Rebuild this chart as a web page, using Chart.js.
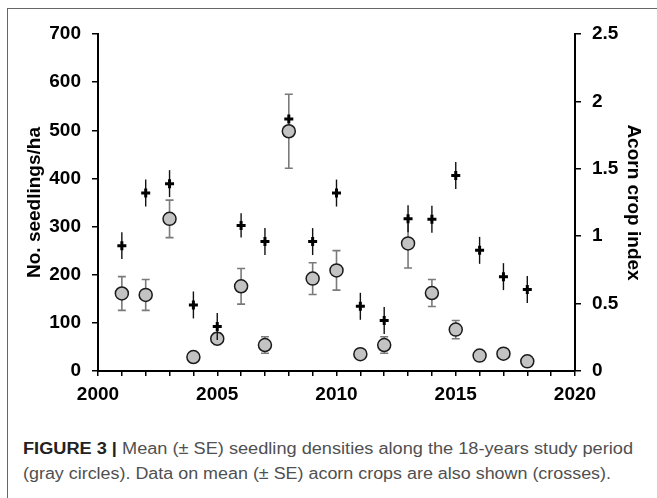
<!DOCTYPE html>
<html>
<head>
<meta charset="utf-8">
<script src="https://cdn.jsdelivr.net/npm/chart.js@4.4.0/dist/chart.umd.min.js"></script>
<style>
body{margin:0;background:#fff;overflow:hidden;width:657px;height:498px;position:relative}
#frame{position:absolute;left:7px;top:8px;width:700px;height:600px;border-left:1.5px solid #666;border-top:1.5px solid #666}
#chart{position:absolute;left:0;top:0}
.cap{position:absolute;left:23px;font-family:"Liberation Sans",Arial,sans-serif;font-size:16px;color:#505050;white-space:nowrap;line-height:26px;transform-origin:0 50%}
.cap b{color:#222}
</style>
</head>
<body>
<div id="frame"></div>
<canvas id="chart" width="657" height="420"></canvas>
<div class="cap" id="cap1" style="top:436px"><b>FIGURE 3 |</b> Mean (± SE) seedling densities along the 18-years study period</div>
<div class="cap" id="cap2" style="top:461px">(gray circles). Data on mean (± SE) acorn crops are also shown (crosses).</div>
<script>
const years=[2001,2002,2003,2004,2005,2006,2007,2008,2009,2010,2011,2012,2013,2014,2015,2016,2017,2018]
const seedlings=[161,158,316,29,67,176,54,498,192,209,35,54,265,162,86,32,36,20]
const seedlingsSE=[35,32,39,4,12,37,17,77,33,41,4,17,51,28,19,4,5,4]
const acorn=[0.93,1.32,1.39,0.49,0.33,1.08,0.96,1.87,0.96,1.32,0.48,0.375,1.13,1.125,1.45,0.895,0.70,0.605]
const acornSE=[0.10,0.10,0.10,0.10,0.10,0.09,0.10,0.03,0.10,0.10,0.10,0.10,0.10,0.10,0.10,0.10,0.10,0.10]

Chart.defaults.font.family='"Liberation Sans", Arial, sans-serif'
Chart.defaults.color='#000'

const tickFont={size:19,weight:'bold'}

// vertical SE bars, drawn just before the dataset they belong to
const errorBars={
    id:'errorBars',
    beforeDatasetDraw(chart,args){
        const ctx=chart.ctx
        const xs=chart.scales.x
        ctx.save()
        if (args.index==1){
            const ys=chart.scales.y
            ctx.strokeStyle='#7a7a7a'
            ctx.lineWidth=1.6
            for (let i=0;i<years.length;i++){
                const px=xs.getPixelForValue(years[i])
                const t=ys.getPixelForValue(seedlings[i]+seedlingsSE[i])
                const b=ys.getPixelForValue(seedlings[i]-seedlingsSE[i])
                ctx.beginPath()
                ctx.moveTo(px,t);ctx.lineTo(px,b)
                ctx.moveTo(px-4,t);ctx.lineTo(px+4,t)
                ctx.moveTo(px-4,b);ctx.lineTo(px+4,b)
                ctx.stroke()
            }
        }
        if (args.index==0){
            const ys=chart.scales.y2
            ctx.strokeStyle='#111'
            ctx.lineWidth=1.4
            for (let i=0;i<years.length;i++){
                const px=xs.getPixelForValue(years[i])
                ctx.beginPath()
                ctx.moveTo(px,ys.getPixelForValue(acorn[i]+acornSE[i]))
                ctx.lineTo(px,ys.getPixelForValue(acorn[i]-acornSE[i]))
                ctx.stroke()
            }
        }
        ctx.restore()
    }
}

new Chart(document.getElementById('chart').getContext('2d'),{
    type:'scatter',
    data:{
        datasets:[{
            label:'Acorn crop index',
            data:years.map((y,i)=>({x:y,y:acorn[i]})),
            yAxisID:'y2',
            pointStyle:'cross',
            pointRadius:4.5,
            borderWidth:3,
            borderColor:'#000',
            backgroundColor:'#000'
        },{
            label:'No. seedlings/ha',
            data:years.map((y,i)=>({x:y,y:seedlings[i]})),
            yAxisID:'y',
            pointRadius:6.5,
            borderWidth:1.5,
            borderColor:'#1a1a1a',
            backgroundColor:'#c3c3c3'
        }]
    },
    options:{
        responsive:false,
        animation:false,
        layout:{padding:{top:34,left:0,right:0,bottom:0}},
        plugins:{legend:{display:false},tooltip:{enabled:false}},
        scales:{
            x:{
                type:'linear',position:'bottom',min:2000,max:2020,
                ticks:{stepSize:1,autoSkip:false,maxRotation:0,padding:7,font:tickFont,
                    callback:v=>v%5==0?v:''},
                grid:{drawOnChartArea:false,tickLength:5,color:'#000',lineWidth:1.5},
                border:{color:'#000',width:2},
                afterFit(s){s.height=49}
            },
            y:{
                position:'left',min:0,max:700,
                ticks:{stepSize:100,padding:11,font:tickFont},
                grid:{drawOnChartArea:false,tickLength:6,color:'#000',lineWidth:1.5},
                border:{color:'#000',width:2},
                title:{display:true,text:'No. seedlings/ha',font:tickFont,padding:{top:23}},
                afterFit(s){s.width=98}
            },
            y2:{
                position:'right',min:0,max:2.5,
                ticks:{stepSize:0.5,padding:11,font:tickFont,callback:v=>v},
                grid:{drawOnChartArea:false,tickLength:6,color:'#000',lineWidth:1.5},
                border:{color:'#000',width:2},
                title:{display:true,text:'Acorn crop index',font:tickFont,padding:{top:12}},
                afterFit(s){s.width=82}
            }
        }
    },
    plugins:[errorBars]
})

// stretch caption lines to the width they have in the figure
function fit(id,w){
    const el=document.getElementById(id)
    el.style.transform='scaleX('+(w/el.getBoundingClientRect().width)+')'
}
fit('cap1',610)
fit('cap2',588)
</script>
</body>
</html>
